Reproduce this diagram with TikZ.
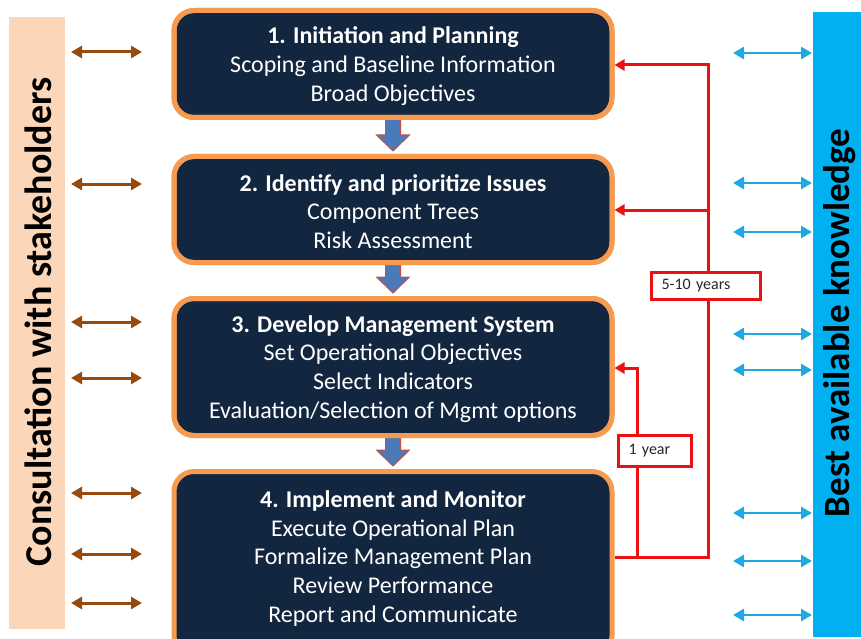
\documentclass[tikz,border=0pt]{standalone}
\usepackage{fontspec}
\setmainfont{Carlito}
\usetikzlibrary{arrows.meta,calc}

\definecolor{stagefill}{HTML}{13263F}
\definecolor{stageedge}{HTML}{F59A4F}
\definecolor{peach}{HTML}{FBD6B9}
\definecolor{kblue}{HTML}{00B0F0}
\definecolor{consultbrown}{HTML}{974A0E}
\definecolor{knowblue}{HTML}{1EA9E2}
\definecolor{loopred}{HTML}{EC1010}
\definecolor{flowfill}{HTML}{4A7AB8}
\definecolor{flowedge}{HTML}{C0504D}
\definecolor{labeltext}{HTML}{262626}

\begin{document}
\begin{tikzpicture}[x=1pt,y=-1pt,
  stage/.style={draw=stageedge, line width=5pt, fill=stagefill,
    rounded corners=20pt, minimum width=438pt, inner sep=0pt},
  stagetext/.style={text=white, align=center, inner sep=0pt,
    font=\fontsize{24}{28.8}\selectfont},
  band/.style={inner sep=0pt},
  bandtext/.style={rotate=90, inner sep=0pt, font=\bfseries\fontsize{38}{44}\selectfont},
  consult/.style={{Triangle[length=11pt,width=12pt]}-{Triangle[length=11pt,width=12pt]},
    line width=3pt, draw=consultbrown},
  knowledge/.style={{Triangle[length=11pt,width=12pt]}-{Triangle[length=11pt,width=12pt]},
    line width=2.8pt, draw=knowblue},
  loopline/.style={draw=loopred, line width=3pt,
    -{Triangle[length=10pt,width=11pt]}},
  yearbox/.style={draw=loopred, line width=3pt, fill=white, text=labeltext,
    inner xsep=10pt, inner ysep=0pt, align=left,
    font=\fontsize{16}{18}\selectfont},
  flowarrow/.style={fill=flowfill, draw=flowedge, line width=1pt, line join=miter}
]
\useasboundingbox (0,0) rectangle (861,639);

% side bands
\node[band, fill=peach, minimum width=56pt, minimum height=612pt] (consultband) at (37,323) {};
\node[bandtext] (consulttext) at (38,322) {Consultation with stakeholders};
\node[band, fill=kblue, minimum width=53pt, minimum height=625pt] (knowband) at (839.5,324.5) {};
\node[bandtext, font=\bfseries\fontsize{37}{44}\selectfont] (knowtext) at (840,323) {Best available knowledge};

% stage boxes
\node[stage, minimum height=107pt] (b1) at (393,64) {};
\node[stage, minimum height=106pt] (b2) at (393,209.5) {};
\node[stage, minimum height=137pt] (b3) at (393,367) {};
\node[stage, minimum height=184pt] (b4) at (393,563.5) {};

% flow arrows between stages
\foreach \a/\b in {b1/b2, b2/b3, b3/b4}{
  \filldraw[flowarrow]
    ($(\a.south)+(-7.5,-3)$) -- ($(\b.north)+(-7.5,-19)$)
    -- ($(\b.north)+(-16.5,-19)$) -- ($(\b.north)+(0,-3)$)
    -- ($(\b.north)+(16.5,-19)$) -- ($(\b.north)+(7.5,-19)$)
    -- ($(\a.south)+(7.5,-3)$) -- cycle;
}
% redraw the borders over the arrow tails
\foreach \b in {b1,b2,b3}{
  \draw[draw=stageedge, line width=5pt, rounded corners=20pt]
    (\b.south west) ++(2.5,-2.5) rectangle ($(\b.north east)+(-2.5,2.5)$);
}

% stage texts
\node[stagetext] (t1) at ($(b1.center)+(0,2)$) {\textbf{1. Initiation and Planning}\\
  Scoping and Baseline Information\\Broad Objectives};
\node[stagetext] (t2) at ($(b2.center)+(0,2)$) {\textbf{2. Identify and prioritize Issues}\\
  Component Trees\\Risk Assessment};
\node[stagetext] (t3) at ($(b3.center)+(0,2)$) {\textbf{3. Develop Management System}\\
  Set Operational Objectives\\Select Indicators\\Evaluation/Selection of Mgmt options};
\node[stagetext] (t4) at ($(b4.center)+(0,-5)$) {\textbf{4. Implement and Monitor}\\
  Execute Operational Plan\\Formalize Management Plan\\Review Performance\\
  Report and Communicate};

% consultation arrows
\foreach \y in {52,184,322,378,493,554,603}{
  \draw[consult] (71,\y) -- (142,\y);
}
% knowledge arrows
\foreach \y in {53,183,232,334,370,513,561,615}{
  \draw[knowledge] (733,\y) -- (812,\y);
}

% review loops
\coordinate (outerbot) at (708,557);
\coordinate (outertop) at (708,65);
\coordinate (outermid) at (708,210);
\coordinate (innerbot) at (637,557);
\coordinate (innertop) at (637,368);
\draw[loopline] (b4.east |- outerbot) -- (outerbot) -- (outertop) -- (b1.east |- outertop);
\draw[loopline] (outermid) -- (b2.east |- outermid);
\draw[loopline] (innerbot) -- (innertop) -- (b3.east |- innertop);

\node[yearbox, text width=89pt, minimum height=27pt] (long) at (706,286) {5-10 years};
\node[yearbox, text width=53pt, minimum height=31pt] (short) at (655,450.5) {1 year};
\end{tikzpicture}
\end{document}
